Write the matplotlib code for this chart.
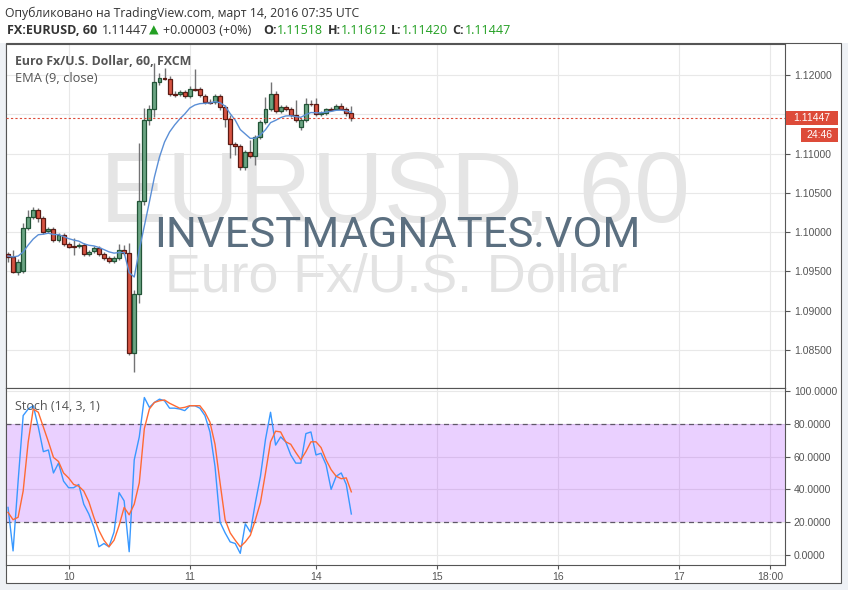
import matplotlib
matplotlib.use("Agg")
import matplotlib.pyplot as plt
from matplotlib.patches import Rectangle
from matplotlib.ticker import FixedLocator, FormatStrFormatter, FuncFormatter

W, H = 848, 590

# hourly bars, index 0 = 10 March 00:00
bars = list(range(-12, 57))
opens = [1.09722, 1.09684, 1.09493, 1.09505, 1.10053, 1.10193, 1.10282, 1.10180, 1.10015, 1.10040,
         1.09900, 1.09964, 1.09849, 1.09824, 1.09824, 1.09836, 1.09722, 1.09760, 1.09798, 1.09722,
         1.09671, 1.09633, 1.09671, 1.09773, 1.09735, 1.08462, 1.09213, 1.10396, 1.11427, 1.11567,
         1.11911, 1.11962, 1.11949, 1.11758, 1.11758, 1.11784, 1.11733, 1.11822, 1.11822, 1.11733,
         1.11656, 1.11656, 1.11733, 1.11593, 1.11440, 1.11122, 1.11096, 1.10829, 1.11020, 1.10969,
         1.11211, 1.11402, 1.11567, 1.11758, 1.11542, 1.11593, 1.11567, 1.11491, 1.11338, 1.11427,
         1.11631, 1.11631, 1.11504, 1.11516, 1.11567, 1.11567, 1.11605, 1.11567, 1.11518]
highs = [1.09747, 1.09773, 1.09658, 1.10116, 1.10282, 1.10320, 1.10307, 1.10205, 1.10065, 1.10065,
         1.09989, 1.09989, 1.09875, 1.09925, 1.09862, 1.09862, 1.09773, 1.09824, 1.09824, 1.09747,
         1.09696, 1.09696, 1.09849, 1.09836, 1.09862, 1.09264, 1.11135, 1.11580, 1.11618, 1.12153,
         1.12025, 1.12089, 1.11987, 1.11796, 1.11809, 1.11809, 1.11860, 1.12076, 1.11847, 1.11758,
         1.11695, 1.11758, 1.11758, 1.11618, 1.11491, 1.11147, 1.11122, 1.11045, 1.11173, 1.11236,
         1.11427, 1.11720, 1.11911, 1.11796, 1.11618, 1.11618, 1.11593, 1.11682, 1.11453, 1.11707,
         1.11682, 1.11707, 1.11542, 1.11580, 1.11593, 1.11631, 1.11644, 1.11593, 1.11612]
lows = [1.09620, 1.09480, 1.09455, 1.09480, 1.10027, 1.10167, 1.10129, 1.09976, 1.09989, 1.09875,
        1.09875, 1.09824, 1.09798, 1.09709, 1.09798, 1.09696, 1.09696, 1.09735, 1.09696, 1.09645,
        1.09607, 1.09607, 1.09645, 1.09709, 1.08436, 1.08220, 1.09098, 1.10345, 1.11364, 1.11465,
        1.11873, 1.11936, 1.11733, 1.11720, 1.11733, 1.11707, 1.11707, 1.11796, 1.11720, 1.11631,
        1.11631, 1.11631, 1.11555, 1.11338, 1.10944, 1.10982, 1.10791, 1.10791, 1.10944, 1.10855,
        1.11185, 1.11376, 1.11542, 1.11516, 1.11516, 1.11542, 1.11465, 1.11402, 1.11300, 1.11402,
        1.11605, 1.11478, 1.11478, 1.11491, 1.11542, 1.11555, 1.11555, 1.11478, 1.11420]
closes = [1.09684, 1.09493, 1.09620, 1.10053, 1.10193, 1.10282, 1.10180, 1.10002, 1.10040, 1.09900,
          1.09964, 1.09849, 1.09811, 1.09817, 1.09836, 1.09722, 1.09747, 1.09798, 1.09722, 1.09671,
          1.09633, 1.09671, 1.09773, 1.09735, 1.08462, 1.09213, 1.10396, 1.11427, 1.11567, 1.11911,
          1.11962, 1.11949, 1.11758, 1.11752, 1.11784, 1.11733, 1.11822, 1.11815, 1.11745, 1.11656,
          1.11650, 1.11733, 1.11593, 1.11440, 1.11122, 1.11096, 1.10829, 1.11020, 1.10969, 1.11211,
          1.11402, 1.11567, 1.11758, 1.11542, 1.11593, 1.11567, 1.11491, 1.11427, 1.11427, 1.11631,
          1.11625, 1.11504, 1.11516, 1.11567, 1.11561, 1.11605, 1.11567, 1.11518, 1.11447]
ema9 = [1.09696, 1.09684, 1.09696, 1.09747, 1.09836, 1.09913, 1.09967, 1.09974, 1.09987, 1.09970,
        1.09969, 1.09945, 1.09918, 1.09899, 1.09886, 1.09853, 1.09833, 1.09825, 1.09805, 1.09778,
        1.09749, 1.09733, 1.09741, 1.09740, 1.09484, 1.09429, 1.09773, 1.10078, 1.10384, 1.10702,
        1.10956, 1.11147, 1.11275, 1.11364, 1.11440, 1.11504, 1.11580, 1.11618, 1.11636, 1.11640,
        1.11644, 1.11661, 1.11647, 1.11605, 1.11509, 1.11426, 1.11306, 1.11249, 1.11193, 1.11197,
        1.11238, 1.11304, 1.11394, 1.11423, 1.11458, 1.11479, 1.11482, 1.11471, 1.11462, 1.11496,
        1.11523, 1.11519, 1.11519, 1.11529, 1.11537, 1.11551, 1.11553, 1.11543, 1.11525]
stoch_k = [29, 2.5, 45, 85, 89, 91, 78, 63, 64, 50, 56, 45, 41, 41, 43, 31, 25, 17, 5, 7,
           5, 14, 38, 33, 2, 58, 72, 96, 90, 93, 95, 94, 89.5, 89.5, 89, 88, 91, 91, 89.5, 85,
           75, 54, 20, 13.5, 8, 7, 1, 19, 14, 32, 48, 70.5, 87, 67, 72, 69, 61, 56, 56, 74,
           75, 61, 62, 55, 40, 48, 50, 43, 25]
stoch_d = [26, 21.5, 23, 39, 69, 89, 87, 78, 69, 59.5, 57, 50, 47, 43, 42, 39, 32.5, 23, 15, 9,
           5, 9, 18, 29, 24.5, 31, 44, 77, 89, 93, 94, 94.5, 92.5, 91, 89.5, 90, 91, 91, 91, 87,
           81, 67.5, 44, 21.5, 13.5, 9, 5, 8, 12, 21.5, 32, 50, 69, 75.5, 75, 69, 67.5, 62.5, 58, 63,
           69, 69, 65.5, 58, 52, 48, 46.5, 47, 38.5]

day_pos = [0, 24, 49, 73, 97, 121, 139]
day_labels = ['10', '11', '14', '15', '16', '17', '18:00']
price_ticks = [1.085, 1.090, 1.095, 1.100, 1.105, 1.110, 1.115, 1.120]
stoch_ticks = [0, 20, 40, 60, 80, 100]
last_price = 1.11447
countdown = '24:46'

up_fill, up_edge = '#6ba583', '#225437'
dn_fill, dn_edge = '#d75442', '#5b1a13'
wick = '#737375'
red = '#dd4b39'
green = '#23a023'
dark = '#555555'
gridc = '#e8e8e8'
sans = ['Liberation Sans', 'DejaVu Sans']
ui = ['Open Sans', 'DejaVu Sans']

plt.rcParams['font.family'] = sans

fig = plt.figure(figsize=(W / 100, H / 100), dpi=100)
fig.patch.set_facecolor('#eef1f5')
renderer = fig.canvas.get_renderer()


def box(x0, y0, x1, y1):
    return [x0 / W, 1 - y1 / H, (x1 - x0) / W, (y1 - y0) / H]


def put(x, y, s, width=None, host=None, **kw):
    kw.setdefault('va', 'baseline')
    if host is None:
        t = fig.text(x / W, 1 - y / H, s, **kw)
    else:
        t = host.text(x / W, 1 - y / H, s, transform=fig.transFigure, **kw)
    if width:
        t.set_fontsize(t.get_fontsize() * width / t.get_window_extent(renderer).width)
    return t


fig.add_artist(Rectangle((0, 1 - 43 / H), 1, 43 / H, transform=fig.transFigure,
                         fc='white', ec='none', zorder=-2))
fig.add_artist(Rectangle(box(6, 43, 841, 583)[:2], 835 / W, 540 / H, transform=fig.transFigure,
                         fc='white', ec=dark, lw=0.8, zorder=-1))

ax1 = fig.add_axes(box(6, 44, 785, 388))
ax2 = fig.add_axes(box(6, 388, 785, 565))

for ax in (ax1, ax2):
    ax.set_xlim(-12.4, 141.9)
    ax.set_axisbelow(True)
    ax.grid(True, color=gridc, lw=0.8)
    ax.xaxis.set_major_locator(FixedLocator(day_pos))
    ax.yaxis.tick_right()
    ax.tick_params(axis='y', direction='out', length=3.6, width=0.8, color=dark,
                   labelcolor=dark, labelsize=7.5, pad=2.8)
    for s in ax.spines.values():
        s.set_color(dark)
        s.set_linewidth(0.8)

# price pane; the scale label under the last-price tag is hidden, as on the chart
ax1.set_ylim(1.08016, 1.12395)
ax1.set_yticks(price_ticks)
ax1.yaxis.set_major_formatter(
    FuncFormatter(lambda v, _: '' if abs(v - last_price) < 0.002 else f'{v:.5f}'))
ax1.tick_params(axis='x', length=0, labelbottom=False)

up = [c >= o for o, c in zip(opens, closes)]
ax1.vlines(bars, lows, highs, color=wick, lw=1, zorder=2)
ax1.bar(bars, [max(abs(c - o), 0.00002) for o, c in zip(opens, closes)],
        bottom=[min(o, c) for o, c in zip(opens, closes)], width=0.78,
        color=[up_fill if u else dn_fill for u in up],
        edgecolor=[up_edge if u else dn_edge for u in up], lw=0.9, zorder=3)
ax1.plot(bars, ema9, color='#5b8fd6', lw=1, zorder=4)
ax1.axhline(last_price, color=red, lw=0.8, ls=(0, (2, 2)), zorder=4)

# watermark
put(395, 222, 'EURUSD, 60', width=590, host=ax1, ha='center', color='#e5e5e5',
    fontsize=70, zorder=1)
put(396, 292, 'Euro Fx/U.S. Dollar', width=463, host=ax1, ha='center', color='#e3e3e3',
    fontsize=38, zorder=1)
put(397, 247, 'INVESTMAGNATES.VOM', width=485, host=ax1, ha='center', color='#5b6f80',
    fontsize=30, family=['Roboto', 'DejaVu Sans'], zorder=6)

put(15, 65, 'Euro Fx/U.S. Dollar, 60, FXCM', width=177, color=dark, fontweight='bold',
    fontsize=9, family=ui)
put(15, 82, 'EMA (9, close)', width=83, color=dark, fontsize=9, family=ui)

# stochastic pane
ax2.set_ylim(-6.1, 101.8)
ax2.set_yticks(stoch_ticks)
ax2.yaxis.set_major_formatter(FormatStrFormatter('%.4f'))
ax2.set_xticks(day_pos, day_labels)
ax2.tick_params(axis='x', length=3, width=0.8, color=dark, labelcolor=dark, labelsize=7.5, pad=2)
ax2.axhspan(20, 80, color=(0.6, 0.08, 1.0), alpha=0.2, lw=0, zorder=1)
for lvl in (20, 80):
    ax2.axhline(lvl, color='#5f5768', lw=0.9, ls=(0, (4, 3)), zorder=2)
ax2.plot(bars, stoch_k, color='#3898ff', lw=1, zorder=3)
ax2.plot(bars, stoch_d, color='#ff6a33', lw=1, zorder=3)
put(15, 410, 'Stoch (14, 3, 1)', width=85, color=dark, fontsize=9, family=ui)

# last price tags on the scale
yc = ax1.transData.transform((0, last_price))[1]
fig.add_artist(Rectangle((786 / W, (yc - 7) / H), 52 / W, 14 / H, transform=fig.transFigure,
                         fc=red, ec='none', zorder=5))
fig.add_artist(Rectangle((801 / W, (yc - 24) / H), 37 / W, 14 / H, transform=fig.transFigure,
                         fc=red, ec='none', zorder=5))
fig.text(812 / W, yc / H, f'{last_price:.5f}', ha='center', va='center', color='white',
         fontsize=7.5, zorder=6)
fig.text(819.5 / W, (yc - 17) / H, countdown, ha='center', va='center', color='white',
         fontsize=7.5, zorder=6)

# header
put(5, 17, 'Опубликовано на TradingView.com, март 14, 2016 07:35 UTC', width=357,
    color='#333333', fontsize=9.5, family=ui)
t = put(7, 34, 'FX:EURUSD, 60', width=90, color='#333333', fontweight='bold', fontsize=9, family=ui)
fs = t.get_fontsize()
pieces = [(102, '1.11447', '#333333', 'normal'), (149, '▲', green, 'normal'),
          (163, '+0.00003 (+0%)', '#333333', 'normal'),
          (263, 'O:', '#333333', 'bold'), (277, '1.11518', green, 'normal'),
          (328, 'H:', '#333333', 'bold'), (341, '1.11612', green, 'normal'),
          (391, 'L:', '#333333', 'bold'), (402, '1.11420', green, 'normal'),
          (452, 'C:', '#333333', 'bold'), (465, '1.11447', green, 'normal')]
for x, s, c, wgt in pieces:
    put(x, 34, s, color=c, fontweight=wgt, fontsize=fs, family=ui)

fig.savefig('out.png', dpi=100, facecolor=fig.get_facecolor())
